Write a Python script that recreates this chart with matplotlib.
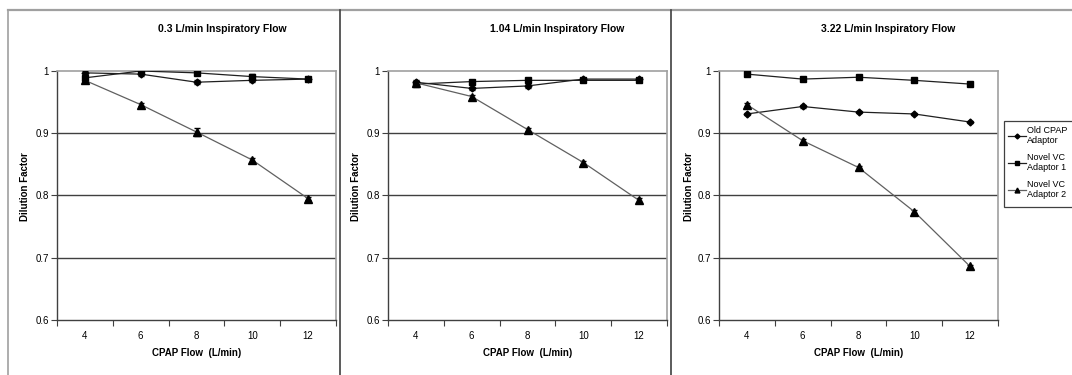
import matplotlib.pyplot as plt
from matplotlib.lines import Line2D
from matplotlib.patches import Rectangle

plt.rcParams['font.family'] = ['Liberation Sans', 'DejaVu Sans']

# CPAP flow (L/min)
cpap_flow = [4, 6, 8, 10, 12]
panel_titles = ["0.3 L/min Inspiratory Flow", "1.04 L/min Inspiratory Flow", "3.22 L/min Inspiratory Flow"]
series_names = ["Old CPAP\nAdaptor", "Novel VC\nAdaptor 1", "Novel VC\nAdaptor 2"]

# dilution factor per panel
old_cpap = [
    [0.997, 0.995, 0.982, 0.985, 0.987],
    [0.982, 0.972, 0.976, 0.987, 0.987],
    [0.931, 0.943, 0.934, 0.931, 0.918],
]
novel_vc1 = [
    [0.989, 1.000, 0.997, 0.991, 0.987],
    [0.979, 0.983, 0.985, 0.985, 0.985],
    [0.995, 0.987, 0.990, 0.985, 0.979],
]
novel_vc2 = [
    [0.985, 0.946, 0.902, 0.857, 0.795],
    [0.981, 0.959, 0.906, 0.853, 0.792],
    [0.946, 0.888, 0.845, 0.774, 0.686],
]
# small error bars visible on the picture
old_err = [
    [0.003, 0.003, 0.003, 0.002, 0.002],
    [0.003, 0.002, 0.003, 0.002, 0.002],
    [0.002, 0.002, 0.002, 0.002, 0.002],
]
vc1_err = [
    [0.003, 0.001, 0.002, 0.004, 0.002],
    [0.002, 0.002, 0.002, 0.002, 0.002],
    [0.002, 0.002, 0.002, 0.002, 0.002],
]
vc2_err = [
    [0.002, 0.003, 0.007, 0.003, 0.003],
    [0.002, 0.003, 0.003, 0.003, 0.004],
    [0.003, 0.002, 0.002, 0.002, 0.002],
]

W, H = 1072, 375
fig = plt.figure(figsize=(W / 100, H / 100), dpi=100)
fig.patch.set_facecolor('white')

def fx(px):
    return px / W

def fy(py):
    return 1 - py / H

# panel frames
fig.add_artist(Line2D([fx(8), 1], [fy(10), fy(10)], color='#a0a0a0', lw=1.6))
fig.add_artist(Line2D([fx(8), fx(8)], [fy(10), 0], color='#a0a0a0', lw=1.2))
for sx in (339.5, 671):
    fig.add_artist(Line2D([fx(sx), fx(sx)], [fy(10), 0], color='#404040', lw=1.2))

ax_left = [57, 388, 719]
title_x = [222, 557, 888]
ylab_x = [25, 356, 689]
ax_w = 279
ax_top, ax_bot = 71, 320

series = [
    (old_cpap, old_err, 'D', 3.5, '#202020'),
    (novel_vc1, vc1_err, 's', 5, '#202020'),
    (novel_vc2, vc2_err, '^', 5.5, '#606060'),
]

for i in range(3):
    ax = fig.add_axes([fx(ax_left[i]), fy(ax_bot), ax_w / W, (ax_bot - ax_top) / H])
    for vals, errs, mk, ms, lc in series:
        ax.errorbar(cpap_flow, vals[i], yerr=errs[i], color=lc, lw=0.9, ecolor='black',
                    elinewidth=0.8, capsize=2, marker=mk, markersize=ms,
                    markerfacecolor='black', markeredgecolor='black', zorder=3)
    ax.set_xlim(3, 13)
    ax.set_ylim(0.6, 1.0)
    for g in (0.7, 0.8, 0.9):
        ax.axhline(g, color='#404040', lw=1.0, zorder=1)
    ax.set_xticks([3, 5, 7, 9, 11, 13])
    ax.set_xticklabels([])
    ax.set_xticks(cpap_flow, minor=True)
    ax.set_xticklabels([str(v) for v in cpap_flow], minor=True)
    ax.tick_params(axis='x', which='major', direction='out', length=4, width=0.8, color='#404040')
    ax.tick_params(axis='x', which='minor', length=0, pad=8, labelsize=7)
    ax.set_yticks([0.6, 0.7, 0.8, 0.9, 1.0])
    ax.set_yticklabels(['0.6', '0.7', '0.8', '0.9', '1'])
    ax.tick_params(axis='y', direction='out', length=4, width=0.8, color='#404040', labelsize=7, pad=2)
    for side in ('left', 'bottom'):
        ax.spines[side].set_color('#404040')
        ax.spines[side].set_linewidth(1.0)
    for side in ('top', 'right'):
        ax.spines[side].set_color('#a0a0a0')
        ax.spines[side].set_linewidth(1.2)
    fig.text(fx(title_x[i]), fy(29), panel_titles[i], ha='center', va='center',
             fontsize=7.5, fontweight='bold')
    fig.text(fx(ylab_x[i]), fy(187), "Dilution Factor", rotation=90, ha='center', va='center',
             fontsize=7, fontweight='bold')
    fig.text(fx(ax_left[i] + ax_w / 2), fy(353), "CPAP Flow  (L/min)", ha='center', va='center',
             fontsize=7, fontweight='bold')

# legend box drawn by hand, legend entries inside it
fig.add_artist(Rectangle((fx(1004), fy(207)), fx(80), (207 - 121) / H, transform=fig.transFigure,
                         facecolor='white', edgecolor='#404040', lw=0.9))
handles = [
    Line2D([], [], color='#202020', lw=0.9, marker='D', markersize=2.5, markerfacecolor='black', markeredgecolor='black'),
    Line2D([], [], color='#202020', lw=0.9, marker='s', markersize=3.5, markerfacecolor='black', markeredgecolor='black'),
    Line2D([], [], color='#606060', lw=0.9, marker='^', markersize=3.5, markerfacecolor='black', markeredgecolor='black'),
]
leg = fig.legend(handles, series_names, loc='upper left', bbox_to_anchor=(fx(1008), fy(126)),
                 fontsize=6.5, frameon=False, handlelength=2.0, handletextpad=0.1,
                 borderpad=0, labelspacing=0.9, borderaxespad=0)
for t in leg.get_texts():
    t.set_linespacing(1.15)

fig.savefig("out.png", dpi=100, facecolor='white')
